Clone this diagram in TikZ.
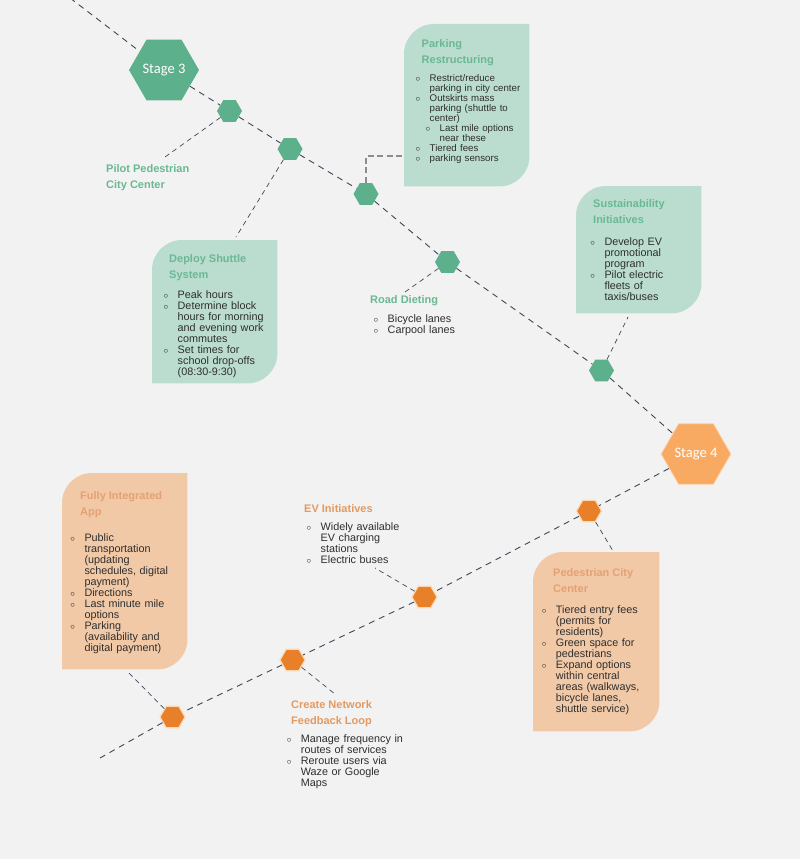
\documentclass[tikz,border=0pt]{standalone}
\usepackage{fontspec}
\setmainfont{Liberation Sans}
\newfontfamily\stagefont{Carlito}
\usetikzlibrary{shapes.geometric}

\definecolor{bg}{HTML}{F2F2F2}
\definecolor{hexgreen}{HTML}{5CB08B}
\definecolor{boxgreen}{HTML}{BBDDCF}
\definecolor{titlegreen}{HTML}{6AB894}
\definecolor{stageorange}{HTML}{F8AA63}
\definecolor{hexorange}{HTML}{E8802A}
\definecolor{glow}{HTML}{FCD9B4}
\definecolor{boxorange}{HTML}{F1C9A7}
\definecolor{titleorange}{HTML}{E4A171}
\definecolor{labelorange}{HTML}{E39A62}
\definecolor{ink}{HTML}{2E2E2E}
\definecolor{track}{HTML}{3E4757}
\definecolor{elbow}{HTML}{8C8C8C}

% bullet lines: \itm starts a bulleted line, \ctn continues the item
\newcommand{\bmark}{{\fontsize{9}{9}\selectfont$\circ$}}
\newcommand{\itm}[1]{\par\noindent\llap{\bmark\hspace{9.5pt}}#1}
\newcommand{\ctn}[1]{\par\noindent#1}

% card with two rounded diagonal corners (top left, bottom right)
\newcommand{\leaf}[2]{\fill[#2] (#1.south west) -- ([yshift=-30pt]#1.north west)
  arc[start angle=180,end angle=90,radius=30pt] -- (#1.north east)
  -- ([yshift=30pt]#1.south east) arc[start angle=0,end angle=-90,radius=30pt] -- cycle;}

\tikzset{
  hexbig/.style={regular polygon, regular polygon sides=6, minimum size=68pt,
    inner sep=0pt, text=white, font=\stagefont\fontsize{14.5}{16}\selectfont},
  hexsmall/.style={regular polygon, regular polygon sides=6, minimum size=25pt, inner sep=0pt},
  greenhex/.style={hexsmall, fill=hexgreen},
  orangehex/.style={hexsmall, fill=hexorange, draw=glow, line width=1.2pt},
  card/.style={anchor=north west, inner sep=0pt},
  ttl/.style={anchor=north west, inner sep=0pt, align=left,
    font=\bfseries\fontsize{11}{16}\selectfont},
  lst/.style={anchor=north west, inner sep=0pt, text width=150pt, align=left, text=ink,
    font=\fontsize{10.8}{11}\selectfont},
  smalllst/.style={lst, font=\fontsize{9.7}{10}\selectfont},
  trackline/.style={draw=track, line width=0.9pt, dash pattern=on 6pt off 5pt},
  link/.style={draw=track, line width=0.7pt, dash pattern=on 5pt off 4pt},
  elbowlink/.style={draw=elbow, line width=1.6pt, dash pattern=on 6pt off 3.5pt},
}

\begin{document}
\begin{tikzpicture}[x=1pt,y=-1pt]
\useasboundingbox (0,0) rectangle (800,859);
\fill[bg] (0,0) rectangle (800,859);

% cards
\node[card, minimum width=125pt, minimum height=162pt] (pkbox) at (404,24) {};
\node[card, minimum width=125pt, minimum height=143pt] (dsbox) at (152,240) {};
\node[card, minimum width=125pt, minimum height=127pt] (sibox) at (576,186) {};
\node[card, minimum width=125pt, minimum height=196pt] (apbox) at (62,473) {};
\node[card, minimum width=126pt, minimum height=179pt] (pcbox) at (533,552) {};
\leaf{pkbox}{boxgreen}
\leaf{dsbox}{boxgreen}
\leaf{sibox}{boxgreen}
\leaf{apbox}{boxorange}
\leaf{pcbox}{boxorange}

% milestones
\node[hexbig, fill=hexgreen] (s3) at (164,70) {Stage 3};
\node[greenhex] (g1) at (229.5,111) {};
\node[greenhex] (g2) at (290,149) {};
\node[greenhex] (g3) at (366,194) {};
\node[greenhex] (g4) at (447.5,262) {};
\node[greenhex] (g5) at (601.5,370.5) {};
\node[hexbig, fill=stageorange, draw=glow, line width=0.8pt] (s4) at (696,454) {Stage 4};
\node[orangehex] (o1) at (589,511) {};
\node[orangehex] (o2) at (424.5,597) {};
\node[orangehex] (o3) at (292.5,660) {};
\node[orangehex] (o4) at (172.5,717) {};

% timeline
\coordinate (trackstart) at (70,-2);
\coordinate (trackend) at (100,758);
\draw[trackline] (trackstart) -- (s3);
\draw[trackline] (s3) -- (g1);
\draw[trackline] (g1) -- (g2);
\draw[trackline] (g2) -- (g3);
\draw[trackline] (g3) -- (g4);
\draw[trackline] (g4) -- (g5);
\draw[trackline] (g5) -- (s4);
\draw[trackline] (s4) -- (o1);
\draw[trackline] (o1) -- (o2);
\draw[trackline] (o2) -- (o3);
\draw[trackline] (o3) -- (o4);
\draw[trackline] (o4) -- (trackend);

% leader lines
\coordinate (pilotend) at (165,157);
\coordinate (deployend) at (236,237);
\coordinate (parkend) at (402,156);
\coordinate (roadend) at (405,292);
\coordinate (sustend) at (628,317);
\coordinate (pedend) at (613,551);
\coordinate (evend) at (375,568);
\coordinate (createend) at (335,694);
\coordinate (append) at (127,671);
\draw[link] (g1) -- (pilotend);
\draw[link] (g2) -- (deployend);
\draw[elbowlink] (g3) |- (parkend);
\draw[link] (g4) -- (roadend);
\draw[link] (g5) -- (sustend);
\draw[link] (o1) -- (pedend);
\draw[link] (o2) -- (evend);
\draw[link] (o3) -- (createend);
\draw[link] (o4) -- (append);

% Stage 3 texts
\node[ttl, text=titlegreen] (pkttl) at (421.5,39) {Parking\\Restructuring};
\node[smalllst] (pklst) at (429.5,71) {%
  \itm{Restrict/reduce}\ctn{parking in city center}%
  \itm{Outskirts mass}\ctn{parking (shuttle to}\ctn{center)}\par
  {\leftskip=10pt\itm{Last mile options}\ctn{near these}\par}%
  \itm{Tiered fees}\itm{parking sensors}};

\node[ttl, text=titlegreen] (pilot) at (106,164.5) {Pilot Pedestrian\\City Center};

\node[ttl, text=titlegreen] (dsttl) at (169,254.5) {Deploy Shuttle\\System};
\node[lst] (dslst) at (177.5,286.8) {%
  \itm{Peak hours}%
  \itm{Determine block}\ctn{hours for morning}\ctn{and evening work}\ctn{commutes}%
  \itm{Set times for}\ctn{school drop-offs}\ctn{(08:30-9:30)}};

\node[ttl, text=titlegreen] (rdttl) at (370,295.5) {Road Dieting};
\node[lst] (rdlst) at (387.5,310.8) {\itm{Bicycle lanes}\itm{Carpool lanes}};

\node[ttl, text=titlegreen] (sittl) at (593,199.5) {Sustainability\\Initiatives};
\node[lst] (silst) at (604.3,233.8) {%
  \itm{Develop EV}\ctn{promotional}\ctn{program}%
  \itm{Pilot electric}\ctn{fleets of}\ctn{taxis/buses}};

% Stage 4 texts
\node[ttl, text=labelorange] (evttl) at (304,504.5) {EV Initiatives};
\node[lst] (evlst) at (320.5,518.8) {%
  \itm{Widely available}\ctn{EV charging}\ctn{stations}\itm{Electric buses}};

\node[ttl, text=titleorange] (apttl) at (80,491.5) {Fully Integrated\\App};
\node[lst] (aplst) at (84.3,529.8) {%
  \itm{Public}\ctn{transportation}\ctn{(updating}\ctn{schedules, digital}\ctn{payment)}%
  \itm{Directions}%
  \itm{Last minute mile}\ctn{options}%
  \itm{Parking}\ctn{(availability and}\ctn{digital payment)}};

\node[ttl, text=titleorange] (pcttl) at (553,568.5) {Pedestrian City\\Center};
\node[lst] (pclst) at (555.7,601.8) {%
  \itm{Tiered entry fees}\ctn{(permits for}\ctn{residents)}%
  \itm{Green space for}\ctn{pedestrians}%
  \itm{Expand options}\ctn{within central}\ctn{areas (walkways,}\ctn{bicycle lanes,}\ctn{shuttle service)}};

\node[ttl, text=labelorange] (cnttl) at (291,700.5) {Create Network\\Feedback Loop};
\node[lst] (cnlst) at (300.7,730.8) {%
  \itm{Manage frequency in}\ctn{routes of services}%
  \itm{Reroute users via}\ctn{Waze or Google}\ctn{Maps}};
\end{tikzpicture}
\end{document}
